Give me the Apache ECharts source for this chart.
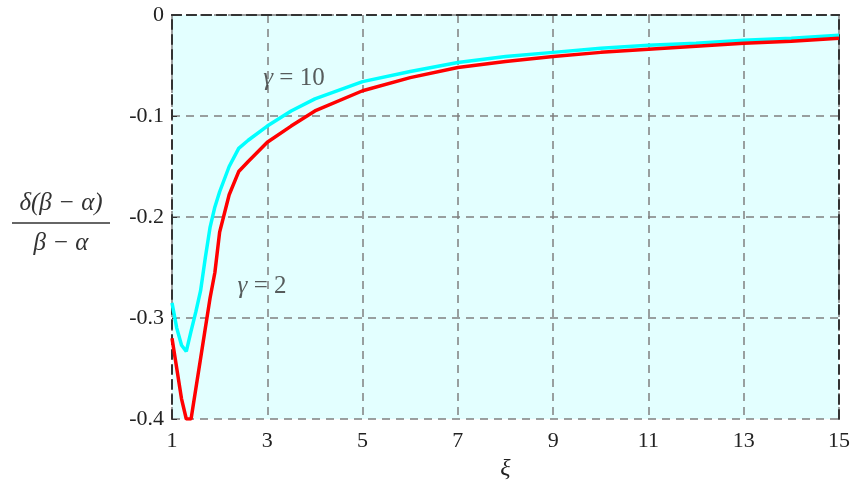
<!DOCTYPE html>
<html><head><meta charset="utf-8">
<script src="https://cdn.jsdelivr.net/npm/echarts@6/dist/echarts.min.js"></script>
<style>html,body{margin:0;padding:0;background:#fff}#c{width:856px;height:486px}</style>
</head><body><div id="c"></div>
<script>
const xiRed = [1,1.1,1.2,1.3,1.4,1.5,1.6,1.7,1.8,1.9,2.0,2.2,2.4,2.6,3,3.5,4,5,6,7,8,9,10,11,12,13,14,15];
const gamma2 = [-0.32,-0.35,-0.38,-0.40,-0.40,-0.37,-0.34,-0.31,-0.28,-0.255,-0.215,-0.178,-0.155,-0.145,-0.126,-0.11,-0.095,-0.075,-0.062,-0.052,-0.046,-0.041,-0.037,-0.034,-0.031,-0.028,-0.026,-0.023];
const xiCyan = [1,1.1,1.2,1.3,1.4,1.5,1.6,1.7,1.8,1.9,2.0,2.2,2.4,2.6,3,3.5,4,5,6,7,8,9,10,11,12,13,14,15];
const gamma10 = [-0.285,-0.31,-0.327,-0.333,-0.313,-0.294,-0.273,-0.24,-0.21,-0.19,-0.175,-0.15,-0.132,-0.124,-0.11,-0.095,-0.083,-0.066,-0.056,-0.047,-0.041,-0.037,-0.033,-0.030,-0.028,-0.025,-0.023,-0.020];
const xTicks = [1,3,5,7,9,11,13,15];
const yTicks = [-0.4,-0.3,-0.2,-0.1,0];
const labelText = ['{i|γ} = 10','{i|γ} = 2'];
const labelX = [3.56, 2.89];
const labelY = [-0.063, -0.269];

const serif = '"Liberation Serif","DejaVu Serif",serif';
const chart = echarts.init(document.getElementById('c'));
const dashBorder = {show:true, lineStyle:{color:'#333', width:2, type:[9,6]}};
const gridDash = {show:true, lineStyle:{color:'#808080', width:1.5, type:[8,6]}};
chart.setOption({
  animation:false,
  grid:{left:172, right:17, top:15, bottom:60, show:true, backgroundColor:'#e3ffff', borderWidth:0},
  xAxis:[{type:'value', min:1, max:15, interval:2, axisLine:dashBorder, axisTick:{show:false},
    axisLabel:{color:'#222', fontFamily:serif, fontSize:22, margin:11, formatter:v=>String(v)},
    splitLine:gridDash,
    name:'ξ', nameLocation:'middle', nameGap:38, nameTextStyle:{fontFamily:serif, fontStyle:'italic', fontSize:24, color:'#222'}},
    {type:'value', position:'top', min:1, max:15, interval:2, axisLine:dashBorder, axisTick:{show:false}, axisLabel:{show:false}, splitLine:{show:false}}],
  yAxis:[{type:'value', min:-0.4, max:0, interval:0.1, axisLine:dashBorder,
    axisTick:{show:true, inside:true, length:5, lineStyle:{color:'#333'}},
    axisLabel:{color:'#222', fontFamily:serif, fontSize:22, margin:8, formatter:v=>v===0?'0':v.toFixed(1)},
    splitLine:gridDash},
    {type:'value', position:'right', min:-0.4, max:0, interval:0.1, axisLine:dashBorder, axisTick:{show:false}, axisLabel:{show:false}, splitLine:{show:false}}],
  series:[
    {type:'line', name:'γ=10', data:xiCyan.map((x,i)=>[x,gamma10[i]]), showSymbol:false, lineStyle:{color:'#00ffff', width:3.5}, z:3},
    {type:'line', name:'γ=2', data:xiRed.map((x,i)=>[x,gamma2[i]]), showSymbol:false, lineStyle:{color:'#ff0000', width:3.5}, z:4},
    {type:'scatter', symbolSize:1, itemStyle:{color:'rgba(0,0,0,0)'}, z:6, silent:true,
     data:labelText.map((t,i)=>({name:t, value:[labelX[i],labelY[i]]})),
     label:{show:true, position:'inside', formatter:p=>p.name, fontFamily:serif, fontSize:25, color:'#333',
       rich:{i:{fontFamily:serif, fontStyle:'italic', fontSize:25, color:'#333'}}}}
  ],
  graphic:[
    {type:'text', x:61, y:216, style:{text:'δ(β − α)', font:'italic 25px '+serif, fill:'#333', textAlign:'center', textVerticalAlign:'bottom'}},
    {type:'line', shape:{x1:12, y1:223, x2:110, y2:223}, style:{stroke:'#333', lineWidth:1.5}},
    {type:'text', x:61, y:231, style:{text:'β − α', font:'italic 25px '+serif, fill:'#333', textAlign:'center', textVerticalAlign:'top'}}
  ]
});
</script></body></html>
